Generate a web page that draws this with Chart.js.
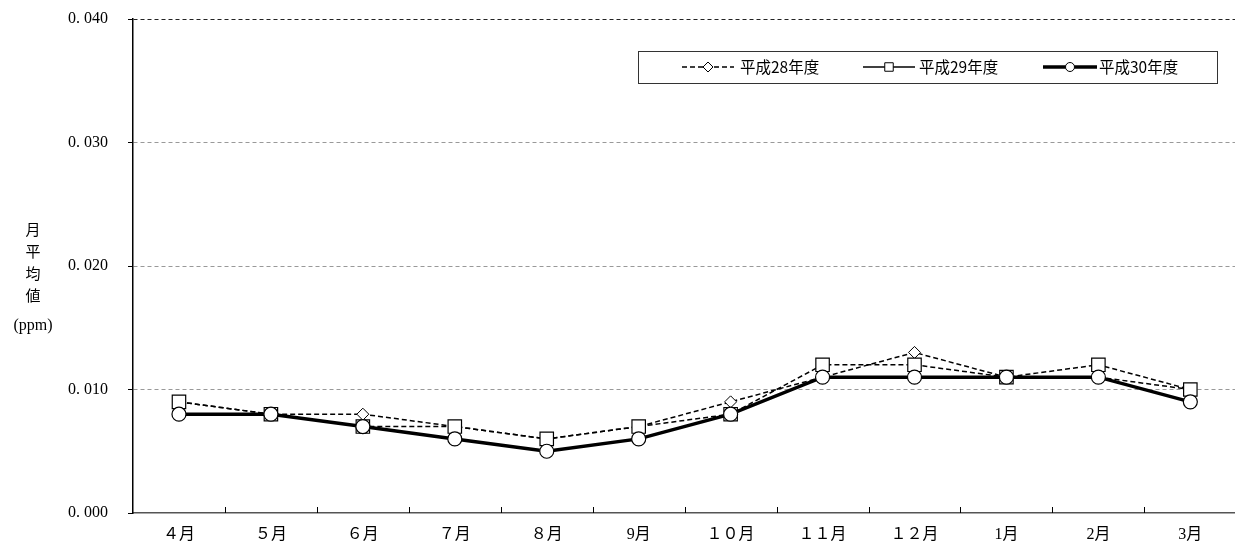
<!DOCTYPE html>
<html lang="ja">
<head>
<meta charset="utf-8">
<title>月平均値の推移</title>
<script src="https://cdn.jsdelivr.net/npm/chart.js@4/dist/chart.umd.min.js"></script>
<style>
  html, body { margin: 0; padding: 0; background: #fff; overflow: hidden; }
  #wrap { width: 1235px; height: 547px; position: relative; overflow: hidden; }
  #c { display: block; }
</style>
</head>
<body>
<div id="wrap"><canvas id="c" width="1247" height="547"></canvas></div>
<script>
// 月（年度順）
const months = ['４月', '５月', '６月', '７月', '８月', '9月', '１０月', '１１月', '１２月', '1月', '2月', '3月'];

// 月平均値 (ppm)
const h28 = [0.009, 0.008, 0.008, 0.007, 0.006, 0.007, 0.009, 0.011, 0.013, 0.011, 0.011, 0.010];
const h29 = [0.009, 0.008, 0.007, 0.007, 0.006, 0.007, 0.008, 0.012, 0.012, 0.011, 0.012, 0.010];
const h30 = [0.008, 0.008, 0.007, 0.006, 0.005, 0.006, 0.008, 0.011, 0.011, 0.011, 0.011, 0.009];

const seriesNames = ['平成28年度', '平成29年度', '平成30年度'];

// 縦軸目盛
const yTickLabels = ['0. 000', '0. 010', '0. 020', '0. 030', '0. 040'];
const yTitleChars = ['月', '平', '均', '値'];
const yUnit = '(ppm)';

const numFont = '"Liberation Serif", "DejaVu Serif", "Noto Sans CJK JP", serif';
const jpFont = '"Noto Sans CJK JP", "Liberation Serif", sans-serif';

// 縦軸タイトル（縦書き）
const yTitlePlugin = {
  id: 'yTitle',
  afterDraw(chart) {
    const ctx = chart.ctx;
    ctx.save();
    ctx.fillStyle = '#000';
    ctx.textAlign = 'center';
    ctx.textBaseline = 'middle';
    ctx.font = '15px ' + jpFont;
    yTitleChars.forEach((ch, i) => ctx.fillText(ch, 33, 229 + i * 22));
    ctx.font = '16px ' + numFont;
    ctx.fillText(yUnit, 33, 326);
    ctx.restore();
  }
};

// 横軸の区切り目盛（内向き）
const xTickPlugin = {
  id: 'xInnerTicks',
  afterDatasetsDraw(chart) {
    const x = chart.scales.x, area = chart.chartArea, ctx = chart.ctx;
    ctx.save();
    ctx.strokeStyle = '#000';
    ctx.lineWidth = 1;
    for (let i = 1; i < months.length; i++) {
      const px = Math.round(x.getPixelForValue(i - 0.5)) + 0.5;
      ctx.beginPath();
      ctx.moveTo(px, area.bottom);
      ctx.lineTo(px, area.bottom - 6);
      ctx.stroke();
    }
    ctx.restore();
  }
};

// 線種＋マーカーの凡例
const lineLegendPlugin = {
  id: 'lineLegend',
  afterDraw(chart) {
    const ctx = chart.ctx;
    const box = { left: 638, top: 51, right: 1217, bottom: 83 };
    const entries = [
      { x0: 682, x1: 734, text: 740 },
      { x0: 863, x1: 915, text: 919 },
      { x0: 1043, x1: 1097, text: 1099 }
    ];
    const cy = (box.top + box.bottom) / 2;
    ctx.save();
    ctx.strokeStyle = '#333';
    ctx.lineWidth = 1;
    ctx.strokeRect(box.left + 0.5, box.top + 0.5, box.right - box.left, box.bottom - box.top);
    chart.data.datasets.forEach((ds, i) => {
      const e = entries[i];
      ctx.save();
      ctx.strokeStyle = ds.borderColor;
      ctx.lineWidth = ds.borderWidth;
      ctx.setLineDash(ds.legendDash || []);
      ctx.beginPath();
      ctx.moveTo(e.x0, cy);
      ctx.lineTo(e.x1, cy);
      ctx.stroke();
      ctx.setLineDash([]);
      ctx.fillStyle = ds.pointBackgroundColor;
      ctx.strokeStyle = ds.pointBorderColor;
      ctx.lineWidth = 1;
      Chart.helpers.drawPoint(ctx, {
        pointStyle: ds.pointStyle, radius: ds.legendRadius, rotation: 0, borderWidth: 1
      }, (e.x0 + e.x1) / 2, cy);
      ctx.restore();
      ctx.fillStyle = '#000';
      ctx.font = '15.5px ' + jpFont;
      ctx.textAlign = 'left';
      ctx.textBaseline = 'middle';
      ctx.fillText(ds.label, e.text, cy);
    });
    ctx.restore();
  }
};

new Chart(document.getElementById('c'), {
  type: 'line',
  data: {
    labels: months,
    datasets: [
      {
        label: seriesNames[0], data: h28, order: 3,
        borderColor: '#000', borderWidth: 1.5, borderDash: [5, 3], legendDash: [5, 3],
        pointStyle: 'rectRot', pointRadius: 6, legendRadius: 5,
        pointBackgroundColor: '#fff', pointBorderColor: '#000', pointBorderWidth: 1,
        tension: 0
      },
      {
        label: seriesNames[1], data: h29, order: 2,
        borderColor: '#000', borderWidth: 1.5, borderDash: [5, 3], legendDash: [],
        pointStyle: 'rect', pointRadius: 9.5, legendRadius: 6,
        pointBackgroundColor: '#fff', pointBorderColor: '#000', pointBorderWidth: 1.2,
        tension: 0
      },
      {
        label: seriesNames[2], data: h30, order: 1,
        borderColor: '#000', borderWidth: 3.5, legendDash: [],
        pointStyle: 'circle', pointRadius: 7, legendRadius: 4.5,
        pointBackgroundColor: '#fff', pointBorderColor: '#000', pointBorderWidth: 1.2,
        tension: 0
      }
    ]
  },
  options: {
    responsive: false,
    animation: false,
    layout: { padding: { left: 0, right: 0, top: 19, bottom: 0 } },
    plugins: {
      legend: { display: false },
      tooltip: { enabled: false }
    },
    scales: {
      x: {
        offset: true,
        grid: { display: false, drawTicks: false },
        border: { display: true, color: '#555', width: 1.5, dash: [5, 2] },
        ticks: { color: '#000', padding: 12, font: { family: numFont, size: 16 }, maxRotation: 0, autoSkip: false },
        afterFit(s) { s.height = 34; }
      },
      y: {
        min: 0, max: 0.04,
        ticks: {
          stepSize: 0.01, color: '#000', padding: 20,
          font: { family: numFont, size: 16 },
          callback: (v, i) => yTickLabels[i]
        },
        grid: {
          drawTicks: true, tickLength: 5, tickColor: '#000', tickBorderDash: [],
          lineWidth: 1,
          color: (c) => {
            const v = c.tick ? c.tick.value : null;
            if (v === 0) return 'rgba(0,0,0,0)';
            if (Math.abs(v - 0.04) < 1e-9) return '#222';
            return '#999';
          }
        },
        border: { display: true, color: '#000', width: 1.5, dash: [4, 3] },
        afterFit(s) { s.width = 133; s.paddingTop = 0; s.paddingBottom = 0; }
      }
    }
  },
  plugins: [yTitlePlugin, xTickPlugin, lineLegendPlugin]
});
</script>
</body>
</html>
